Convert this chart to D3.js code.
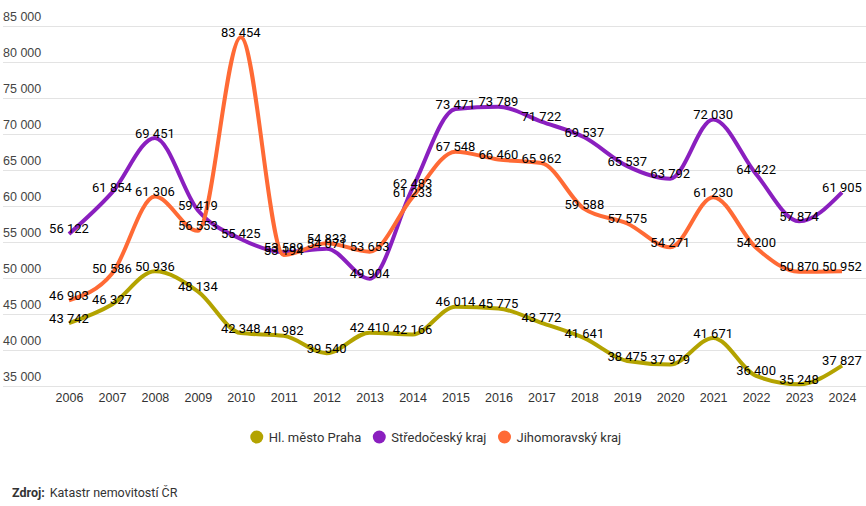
<!DOCTYPE html>
<meta charset="utf-8">
<style>
    body { margin: 0; background: #fff; font-family: Roboto, sans-serif; }
    .grid line { stroke: #e3e3e3; stroke-width: 1px; }
    .tick text { fill: #333; font-size: 12.5px; }
    .lbl { font-size: 13px; fill: #000; }
</style>
<svg width="866" height="506"></svg>
<script src="https://d3js.org/d3.v7.min.js"></script>
<script>

    var years = ["2006", "2007", "2008", "2009", "2010", "2011", "2012", "2013", "2014", "2015",
        "2016", "2017", "2018", "2019", "2020", "2021", "2022", "2023", "2024"];
    var praha = [43742, 46327, 50936, 48134, 42348, 41982, 39540, 42410, 42166, 46014,
        45775, 43772, 41641, 38475, 37979, 41671, 36400, 35248, 37827];
    var stredocesky = [56122, 61854, 69451, 59419, 55425, 53589, 54071, 49904, 62483, 73471,
        73789, 71722, 69537, 65537, 63792, 72030, 64422, 57874, 61905];
    var jihomoravsky = [46903, 50586, 61306, 56553, 83454, 53194, 54833, 53653, 61233, 67548,
        66460, 65962, 59588, 57575, 54271, 61230, 54200, 50870, 50952];
    var seriesNames = ["Hl. město Praha", "Středočeský kraj", "Jihomoravský kraj"];
    var yTicks = [35000, 40000, 45000, 50000, 55000, 60000, 65000, 70000, 75000, 80000, 85000];

    var colors = ["#b3a300", "#8a1fbf", "#ff6a35"];
    var series = [praha, stredocesky, jihomoravsky];

    var svg = d3.select("svg"),
        width = +svg.attr("width");

    var x = d3.scalePoint().domain(years).range([69, 842]);
    var y = d3.scaleLinear().domain([35000, 85000]).range([386, 26]);

    var fmt = function (v) { return d3.format(",")(v).replace(/,/g, " "); };

    // gridlines + y labels
    var grid = svg.append("g").attr("class", "grid");
    grid.selectAll("line").data(yTicks).enter().append("line")
        .attr("x1", 3).attr("x2", width)
        .attr("y1", function (d) { return Math.round(y(d)) + 0.5; })
        .attr("y2", function (d) { return Math.round(y(d)) + 0.5; });

    var yAxis = svg.append("g")
        .call(d3.axisRight(y).tickValues(yTicks).tickFormat(fmt).tickSize(0));
    yAxis.select(".domain").remove();
    yAxis.selectAll("text").attr("x", 3).attr("dy", -6).attr("text-anchor", "start").style("fill", "#444");

    var xAxis = svg.append("g")
        .attr("transform", "translate(0,386)")
        .call(d3.axisBottom(x).tickSize(0));
    xAxis.select(".domain").remove();
    xAxis.selectAll("text").attr("y", 7).attr("dy", "0.71em").style("fill", "#333");

    var line = d3.line()
        .x(function (d, i) { return x(years[i]); })
        .y(function (d) { return y(d); })
        .curve(d3.curveMonotoneX);

    svg.append("g").selectAll("path").data(series).enter().append("path")
        .attr("d", line)
        .attr("fill", "none")
        .attr("stroke", function (d, i) { return colors[i]; })
        .attr("stroke-width", 4)
        .attr("stroke-linecap", "butt");

    var labels = svg.append("g");
    series.forEach(function (s) {
        labels.selectAll(null).data(s).enter().append("text")
            .attr("class", "lbl")
            .attr("x", function (d, i) { return x(years[i]); })
            .attr("y", function (d) { return y(d) - 5; })
            .attr("dy", "0.35em")
            .attr("text-anchor", "middle")
            .text(fmt);
    });

    // legend
    var legend = svg.append("g").attr("transform", "translate(0,437)");
    var cx = 0;
    var items = [];
    seriesNames.forEach(function (n, i) {
        var g = legend.append("g");
        g.append("circle").attr("r", 6.5).attr("cx", 6).attr("fill", colors[i]);
        var t = g.append("text").attr("x", 18).attr("dy", "0.35em")
            .style("font-size", "13px").style("fill", "#333").text(n);
        var w = 18 + t.node().getComputedTextLength();
        items.push({ g: g, x: cx });
        cx += w + 12;
    });
    var total = cx - 12;
    var start = 436 - total / 2;
    items.forEach(function (it) { it.g.attr("transform", "translate(" + (start + it.x) + ",0)"); });

    var src = svg.append("text").attr("x", 12).attr("y", 497).style("font-size", "12.5px").style("fill", "#333");
    src.append("tspan").style("font-weight", "bold").text("Zdroj:");
    src.append("tspan").attr("dx", 5).text("Katastr nemovitostí ČR");

</script>
